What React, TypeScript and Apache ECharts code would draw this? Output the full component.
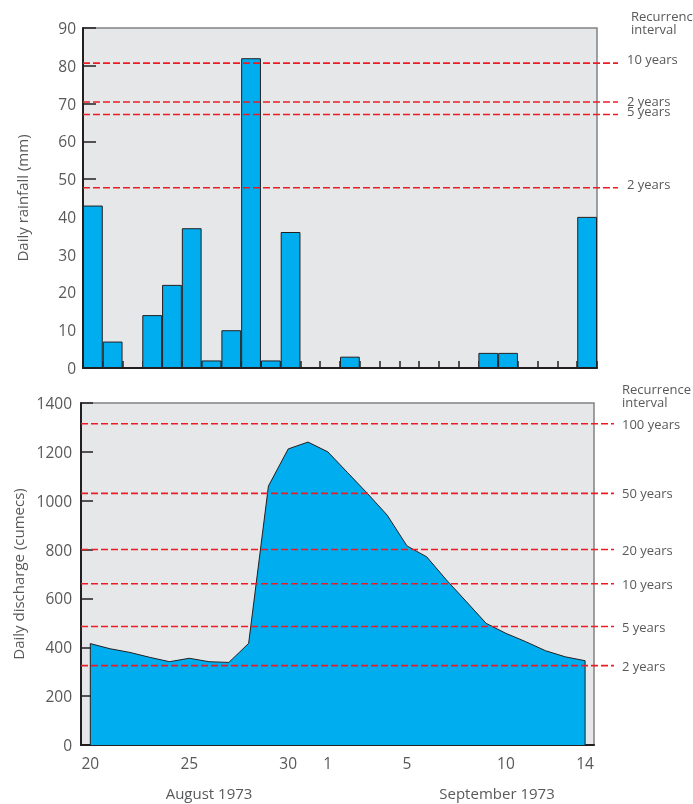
import React, { useEffect, useRef } from "react";
import * as echarts from "echarts";

const days = ["20","21","22","23","24","25","26","27","28","29","30","31","1","2","3","4","5","6","7","8","9","10","11","12","13","14"];
const rainfall = [43, 7, 0, 14, 22, 37, 2, 10, 82, 2, 36, 0, 0, 3, 0, 0, 0, 0, 0, 0, 4, 4, 0, 0, 0, 40];
const discharge = [415, 394, 379, 359, 341, 355, 341, 338, 416, 1060, 1212, 1240, 1200, 1115, 1030, 941, 815, 770, 675, 587, 498, 457, 423, 386, 361, 345];
const rainRefValues = [80.7, 70.4, 67.1, 47.7];
const rainRefLabels = ["10 years", "2 years", "5 years", "2 years"];
const flowRefValues = [1315, 1030, 800, 660, 485, 325];
const flowRefLabels = ["100 years", "50 years", "20 years", "10 years", "5 years", "2 years"];
const dischargeTickDays = [0, 5, 10, 12, 16, 21, 25];
const monthLabels = ["August 1973", "September 1973"];
const recurrenceTitle = "Recurrence\ninterval";

const FONT = "'Open Sans', sans-serif";
const TEXT = "#58595b";
const DARK = "#231f20";
const BLUE = "#00aeef";
const RED = "#ed1c24";

export default function App() {
  const ref = useRef<HTMLDivElement>(null);
  useEffect(() => {
    if (!ref.current) return;
    const chart = echarts.init(ref.current, undefined, { renderer: "svg" });
    const rainOffsets = [-4, -1, -4, -4];

    const refSeries = (values: number[], labels: string[], axisIdx: number, distance: number, offsets: number[]) =>
      values.map((v, i) => ({
        type: "line",
        xAxisIndex: axisIdx,
        yAxisIndex: axisIdx,
        data: [[0, v], [1, v]],
        symbol: "none",
        silent: true,
        z: 5,
        lineStyle: { color: RED, width: 1.6, type: [7, 3] },
        endLabel: {
          show: true,
          formatter: labels[i],
          color: TEXT,
          fontSize: 13,
          fontFamily: FONT,
          distance,
          offset: [0, offsets[i] || 0],
        },
      }));

    const flowPts: number[][] = [[0, 0], ...discharge.map((v, i) => [i, v]), [discharge.length - 1, 0]];

    chart.setOption({
      animation: false,
      textStyle: { fontFamily: FONT },
      grid: [
        { left: 83, top: 28, width: 514, height: 340, show: true, backgroundColor: "#e6e7e8", borderColor: "#808285", borderWidth: 1.5 },
        { left: 81, top: 403, width: 513, height: 342, show: true, backgroundColor: "#e6e7e8", borderColor: "#808285", borderWidth: 1.5 },
        { left: 83, top: 28, width: 535, height: 340 },
        { left: 81, top: 403, width: 533, height: 342 },
      ],
      xAxis: [
        {
          gridIndex: 0, type: "category", data: days,
          axisLine: { onZero: false, lineStyle: { color: DARK, width: 2 } },
          axisTick: { show: true, inside: true, length: 7, interval: 0, lineStyle: { color: DARK, width: 1.5 } },
          axisLabel: { show: false },
        },
        {
          gridIndex: 1, type: "value", min: -0.47, max: 25.45,
          axisLine: { show: true, onZero: false, lineStyle: { color: DARK, width: 2 } },
          axisTick: { show: false },
          splitLine: { show: false },
          axisLabel: {
            customValues: dischargeTickDays,
            formatter: (v: number) => days[Math.round(v)],
            color: TEXT, fontSize: 15.5, fontFamily: FONT, margin: 10,
          },
        },
        { gridIndex: 2, type: "value", min: 0, max: 1, show: false },
        { gridIndex: 3, type: "value", min: 0, max: 1, show: false },
      ],
      yAxis: [
        {
          gridIndex: 0, type: "value", min: 0, max: 90, interval: 10,
          axisLine: { show: true, onZero: false, lineStyle: { color: DARK, width: 2 } },
          axisTick: { show: true, inside: true, length: 13, lineStyle: { color: DARK, width: 1.5 } },
          axisLabel: { color: TEXT, fontSize: 15.5, fontFamily: FONT, margin: 7 },
          splitLine: { show: false },
          name: "Daily rainfall (mm)", nameLocation: "middle", nameGap: 54,
          nameTextStyle: { color: TEXT, fontSize: 15, fontFamily: FONT },
        },
        {
          gridIndex: 1, type: "value", min: 0, max: 1400, interval: 200,
          axisLine: { show: true, onZero: false, lineStyle: { color: DARK, width: 2 } },
          axisTick: { show: true, inside: true, length: 12, lineStyle: { color: DARK, width: 1.5 } },
          axisLabel: { color: TEXT, fontSize: 15.5, fontFamily: FONT, margin: 9, formatter: (v: number) => String(v) },
          splitLine: { show: false },
          name: "Daily discharge (cumecs)", nameLocation: "middle", nameGap: 47,
          nameTextStyle: { color: TEXT, fontSize: 15, fontFamily: FONT },
        },
        { gridIndex: 2, type: "value", min: 0, max: 90, show: false },
        { gridIndex: 3, type: "value", min: 0, max: 1400, show: false },
      ],
      series: [
        {
          type: "bar", xAxisIndex: 0, yAxisIndex: 0, data: rainfall,
          barWidth: "100%", barCategoryGap: "0%",
          itemStyle: { color: BLUE, borderColor: DARK, borderWidth: 1 },
        },
        {
          type: "line", xAxisIndex: 1, yAxisIndex: 1, data: flowPts,
          symbol: "none",
          lineStyle: { color: DARK, width: 1 },
          areaStyle: { color: BLUE, opacity: 1 },
        },
        ...refSeries(rainRefValues, rainRefLabels, 2, 9, rainOffsets),
        ...refSeries(flowRefValues, flowRefLabels, 3, 8, []),
      ],
      graphic: [
        { type: "text", left: 631, top: 9, style: { text: recurrenceTitle, fill: TEXT, fontSize: 13, fontFamily: FONT, lineHeight: 13 } },
        { type: "text", left: 622, top: 382, style: { text: recurrenceTitle, fill: TEXT, fontSize: 13, fontFamily: FONT, lineHeight: 13 } },
        { type: "text", x: 209, y: 793, style: { text: monthLabels[0], fill: TEXT, fontSize: 15, fontFamily: FONT, align: "center", verticalAlign: "middle" } },
        { type: "text", x: 497, y: 793, style: { text: monthLabels[1], fill: TEXT, fontSize: 15, fontFamily: FONT, align: "center", verticalAlign: "middle" } },
      ],
    });
    return () => chart.dispose();
  }, []);
  return <div ref={ref} style={{ position: "fixed", left: 0, top: 0, width: 693, height: 804 }} />;
}
